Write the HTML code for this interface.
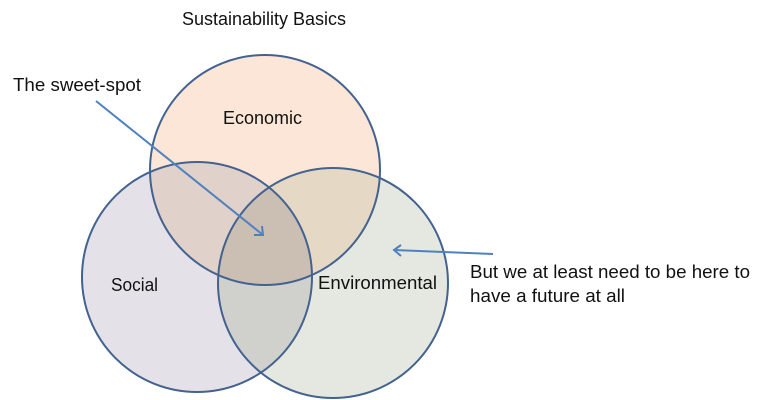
<!DOCTYPE html>
<html><head><meta charset="utf-8"><style>
html,body{margin:0;padding:0;background:#fff;}
svg{display:block;}
text{font-family:"Liberation Sans",sans-serif;fill:#111;}
</style></head><body>
<svg width="768" height="400" viewBox="0 0 768 400" xmlns="http://www.w3.org/2000/svg">
<defs>
<clipPath id="cE"><circle cx="265" cy="170" r="115"/></clipPath>
<clipPath id="cS"><circle cx="197" cy="277" r="115"/></clipPath>
<clipPath id="cV"><circle cx="333" cy="283" r="115"/></clipPath>
</defs>
<circle cx="265" cy="170" r="115" fill="#fbe6d8"/>
<circle cx="197" cy="277" r="115" fill="#e4e1e9"/>
<circle cx="333" cy="283" r="115" fill="#e5e8e1"/>
<g clip-path="url(#cE)"><circle cx="197" cy="277" r="115" fill="#e1d1cb"/><circle cx="333" cy="283" r="115" fill="#e5d9c5"/></g>
<g clip-path="url(#cS)"><circle cx="333" cy="283" r="115" fill="#d0d1cc"/></g>
<g clip-path="url(#cS)"><g clip-path="url(#cE)"><circle cx="333" cy="283" r="115" fill="#cbbfb3"/></g></g>
<g fill="none" stroke="#43628f" stroke-width="2">
<circle cx="265" cy="170" r="115"/>
<circle cx="197" cy="277" r="115"/>
<circle cx="333" cy="283" r="115"/>
</g>
<g stroke="#4f81bd" stroke-width="2" fill="none">
<line x1="96" y1="101" x2="263" y2="235"/>
<polyline points="254,235 263,235 262,226"/>
<line x1="493" y1="254" x2="394" y2="250"/>
<polyline points="401,245 394,250 401,256"/>
</g>
<g font-size="18.5" lengthAdjust="spacingAndGlyphs">
<text x="182" y="25" textLength="164" lengthAdjust="spacingAndGlyphs">Sustainability Basics</text>
<text x="13" y="91" textLength="128" lengthAdjust="spacingAndGlyphs">The sweet-spot</text>
<text x="223" y="124" textLength="79" lengthAdjust="spacingAndGlyphs">Economic</text>
<text x="111" y="291" textLength="47" lengthAdjust="spacingAndGlyphs">Social</text>
<text x="318" y="289" textLength="119" lengthAdjust="spacingAndGlyphs">Environmental</text>
<text x="470" y="278" textLength="280" lengthAdjust="spacingAndGlyphs">But we at least need to be here to</text>
<text x="470" y="302" textLength="155" lengthAdjust="spacingAndGlyphs">have a future at all</text>
</g>
</svg>
</body></html>
